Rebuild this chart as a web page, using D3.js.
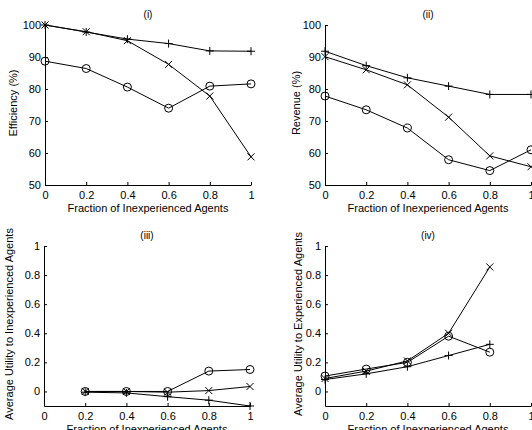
<!DOCTYPE html>
<html><head><meta charset="utf-8">
<script src="https://cdn.jsdelivr.net/npm/d3@7"></script>
<style>body{margin:0;background:#fff}svg text{font-family:"Liberation Sans",Arial,sans-serif;fill:#000}</style>
</head><body><svg id="c" width="532" height="430"></svg>
<script>
const xFull = [0, 0.2, 0.4, 0.6, 0.8, 1];
const xIII = [0.2, 0.4, 0.6, 0.8, 1];
const xIV = [0, 0.2, 0.4, 0.6, 0.8];
const xTicks = [0, 0.2, 0.4, 0.6, 0.8, 1];

const effPlus = [100, 97.8, 95.6, 94.2, 91.9, 91.8];
const effCross = [100, 97.9, 95.1, 87.7, 77.8, 58.8];
const effCircle = [88.7, 86.4, 80.6, 74.0, 80.9, 81.6];

const revPlus = [91.8, 87.3, 83.5, 80.9, 78.3, 78.3];
const revCross = [90.1, 86.0, 81.3, 71.2, 59.1, 55.7];
const revCircle = [77.8, 73.5, 67.8, 57.9, 54.5, 61.0];

const inexpPlus = [-0.005, -0.01, -0.036, -0.06, -0.1];
const inexpCross = [0, 0, -0.005, 0.006, 0.034];
const inexpCircle = [0, 0, 0, 0.14, 0.151];

const expPlus = [0.082, 0.121, 0.170, 0.247, 0.324];
const expCross = [0.089, 0.140, 0.210, 0.400, 0.856];
const expCircle = [0.106, 0.154, 0.200, 0.380, 0.270];

const pctTicks = [50, 60, 70, 80, 90, 100];
const utilTicks = [0, 0.2, 0.4, 0.6, 0.8, 1];

const panels = [
  {title:"(i)", ylabel:"Efficiency (%)", x:xFull, series:[effPlus, effCross, effCircle], ydom:[50,100], yt:pctTicks, left:45, top:25, ylx:13},
  {title:"(ii)", ylabel:"Revenue (%)", x:xFull, series:[revPlus, revCross, revCircle], ydom:[50,100], yt:pctTicks, left:325, top:25, ylx:296},
  {title:"(iii)", ylabel:"Average Utility to Inexperienced Agents", x:xIII, series:[inexpPlus, inexpCross, inexpCircle], ydom:[-0.1,1], yt:utilTicks, left:44, top:246, ylx:9},
  {title:"(iv)", ylabel:"Average Utility to Experienced Agents", x:xIV, series:[expPlus, expCross, expCircle], ydom:[-0.1,1], yt:utilTicks, left:325, top:246, ylx:298}
];
const W = 206, H = 160;
const markers = ["plus","cross","circle"];
const svg = d3.select("#c");

panels.forEach(p => {
  const g = svg.append("g").attr("transform", `translate(${p.left},${p.top})`);
  const x = d3.scaleLinear().domain([0,1]).range([0,W]);
  const y = d3.scaleLinear().domain(p.ydom).range([H,0]);
  const xa = g.append("g").attr("transform", `translate(0,${H})`)
    .call(d3.axisBottom(x).tickValues(xTicks).tickSizeInner(-3).tickSizeOuter(0).tickPadding(6).tickFormat(d=>String(d)));
  const ya = g.append("g")
    .call(d3.axisLeft(y).tickValues(p.yt).tickSizeInner(-3).tickSizeOuter(0).tickPadding(4).tickFormat(d=>String(d)));
  [xa, ya].forEach(a => {
    a.select(".domain").attr("stroke","#000").attr("stroke-width",1);
    a.selectAll(".tick line").attr("stroke","#000");
    a.selectAll("text").attr("font-size",11).attr("font-family","Liberation Sans, Arial, sans-serif").attr("fill","#000");
  });
  g.append("text").attr("x", W/2).attr("y", -7).attr("text-anchor","middle").attr("font-size",10).text(p.title);
  g.append("text").attr("x", W/2).attr("y", H+27).attr("text-anchor","middle").attr("font-size",11).text("Fraction of Inexperienced Agents");
  svg.append("text").attr("transform", `translate(${p.ylx},${p.top+H/2-2}) rotate(-90)`).attr("text-anchor","middle")
    .attr("dominant-baseline","central").attr("font-size",11).text(p.ylabel);
  const line = d3.line().x((d,i)=>x(p.x[i])).y(d=>y(d));
  p.series.forEach((s, si) => {
    g.append("path").attr("d", line(s)).attr("fill","none").attr("stroke","#000").attr("stroke-width",1);
    const m = markers[si];
    s.forEach((v, i) => {
      const cx = x(p.x[i]), cy = y(v);
      if (m === "circle") {
        g.append("circle").attr("cx",cx).attr("cy",cy).attr("r",4).attr("fill","none").attr("stroke","#000");
      } else if (m === "plus") {
        g.append("path").attr("d", `M${cx-4},${cy}H${cx+4}M${cx},${cy-4}V${cy+4}`).attr("stroke","#000").attr("fill","none");
      } else {
        g.append("path").attr("d", `M${cx-3.5},${cy-3.5}L${cx+3.5},${cy+3.5}M${cx+3.5},${cy-3.5}L${cx-3.5},${cy+3.5}`).attr("stroke","#000").attr("fill","none");
      }
    });
  });
});
</script></body></html>
